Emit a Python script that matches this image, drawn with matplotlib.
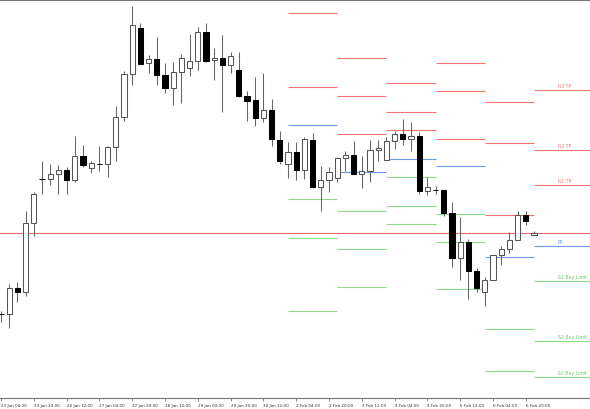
import matplotlib
matplotlib.use("Agg")
import matplotlib.pyplot as plt
import numpy as np

# 4h candles, price in points
opens = [85, 85, 111, 107, 176, 220, 220, 225, 229, 219, 243, 231, 235, 235, 252, 282,
         325, 371, 336, 340, 324, 311, 327, 331, 338, 367, 339, 341, 334, 329, 303, 299,
         281, 289, 259, 235, 247, 229, 259, 212, 219, 221, 241, 244, 225, 228, 249, 239,
         258, 265, 260, 263, 208, 209, 209, 186, 141, 157, 128, 107, 119, 144, 150, 159,
         184, 164]
highs = [88, 115, 117, 188, 207, 238, 235, 234, 232, 263, 254, 238, 253, 253, 293, 328,
         393, 376, 344, 362, 336, 337, 345, 365, 372, 376, 351, 364, 347, 347, 308, 322,
         326, 300, 268, 257, 257, 262, 266, 233, 232, 242, 248, 258, 243, 259, 259, 262,
         268, 280, 277, 267, 222, 213, 209, 197, 182, 160, 131, 122, 144, 153, 167, 188,
         188, 168]
lows = [77, 71, 97, 103, 163, 205, 214, 205, 205, 217, 232, 226, 228, 222, 238, 278,
        314, 335, 326, 314, 306, 294, 296, 323, 329, 337, 319, 287, 326, 302, 278, 273,
        277, 253, 235, 221, 219, 220, 211, 188, 207, 217, 228, 225, 211, 217, 238, 239,
        250, 254, 248, 205, 204, 205, 183, 132, 119, 100, 107, 93, 119, 134, 146, 159,
        174, 164]
closes = [85, 111, 107, 176, 205, 220, 225, 229, 219, 243, 234, 236, 235, 252, 282, 325,
          374, 335, 340, 324, 311, 327, 341, 338, 367, 338, 341, 334, 343, 303, 298, 281,
          289, 260, 238, 247, 229, 260, 212, 219, 227, 241, 244, 225, 228, 249, 251, 258,
          265, 260, 263, 208, 212, 209, 186, 141, 157, 128, 111, 119, 144, 150, 159, 184,
          178, 166]

tick_bars = list(range(0, 66, 4))
tick_labels = ["23 Jan 04:00", "23 Jan 20:00", "26 Jan 12:00", "27 Jan 04:00",
               "27 Jan 20:00", "28 Jan 12:00", "29 Jan 04:00", "29 Jan 20:00",
               "30 Jan 12:00", "2 Feb 04:00", "2 Feb 20:00", "3 Feb 12:00",
               "4 Feb 04:00", "4 Feb 20:00", "5 Feb 12:00", "6 Feb 04:00",
               "6 Feb 20:00"]

# daily pivot levels, one entry per day (first bar of the day)
day_starts = [35, 41, 47, 53, 59, 65]
resistances = [[386, 312], [341, 303, 265], [316, 287, 269],
               [336, 308, 260], [297, 256, 184], [309, 249, 214]]
pivots = [274, 227, 240, 233, 142, 153]
supports = [[200, 161, 88], [188, 150, 112], [222, 193, 175],
            [185, 157, 110], [70, 28], [118, 58, 22]]

r_labels = ["R3 TP", "R2 TP", "R1 TP"]
pp_label = "PP"
s_labels = ["S1 Buy Limit", "S2 Buy Limit", "S3 Buy Limit"]

price_line = 166

RED = "#f27474"
BLUE = "#6d98e6"
GREEN = "#8edc8a"

fig = plt.figure(figsize=(5.9, 4.1), dpi=100)
ax = fig.add_axes([0, 11 / 410, 1, 398 / 410])

# candles
x = np.arange(len(opens))
o = np.array(opens)
c = np.array(closes)
up = c > o
ax.vlines(x, lows, highs, color="#666666", lw=0.75, zorder=2)
ax.bar(x, np.abs(c - o), bottom=np.minimum(o, c), width=0.62,
       color=np.where(up, "white", "black"),
       edgecolor=np.where(up, "#555555", "black"), linewidth=0.75, zorder=3)

# current price line
ax.axhline(price_line, color="#e96a6a", lw=0.8, zorder=1)

# pivot segments
x_end = (590 - 1) / 8.2
for i, start in enumerate(day_starts):
    stop = day_starts[i + 1] if i + 1 < len(day_starts) else x_end
    for lvl in resistances[i]:
        ax.hlines(lvl, start, stop, color=RED, lw=0.8, zorder=1)
    ax.hlines(pivots[i], start, stop, color=BLUE, lw=0.8, zorder=1)
    for lvl in supports[i]:
        ax.hlines(lvl, start, stop, color=GREEN, lw=0.8, zorder=1)

# labels on the last day
lx = (558 - 1) / 8.2
fs = 3.3
for lvl, txt in zip(resistances[-1], r_labels):
    ax.text(lx, lvl + 2, txt, color=RED, fontsize=fs, va="bottom", ha="left")
ax.text(lx, pivots[-1] + 2, pp_label, color=BLUE, fontsize=fs, va="bottom", ha="left")
for lvl, txt in zip(supports[-1], s_labels):
    ax.text(lx, lvl + 2, txt, color="#6cc868", fontsize=fs, va="bottom", ha="left")

ax.set_xlim((0 - 1) / 8.2, x_end)
ax.set_ylim(1, 399)

ax.set_xticks(tick_bars)
ax.set_xticklabels(tick_labels, fontsize=3.0, color="#333333", ha="left")
ax.tick_params(axis="x", length=2.5, width=0.6, color="#777777", pad=1)
ax.set_yticks([])
for side in ["left", "right"]:
    ax.spines[side].set_visible(False)
for side in ["top", "bottom"]:
    ax.spines[side].set_color("#777777")
    ax.spines[side].set_linewidth(0.8)

fig.savefig("out.png", dpi=100)
